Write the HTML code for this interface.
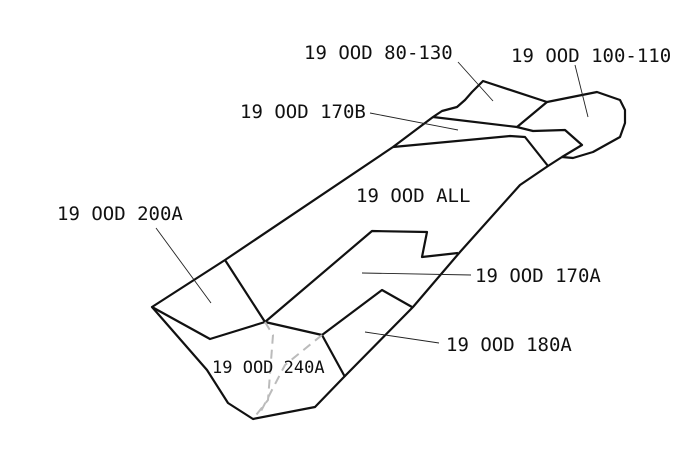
<!DOCTYPE html>
<html><head><meta charset="utf-8"><style>
html,body{margin:0;padding:0;background:#fff;}
svg{display:block;}
text{font-family:"DejaVu Sans Mono","Liberation Mono",monospace;font-size:19px;fill:#111;}
.b{fill:none;stroke:#111;stroke-width:2.2;stroke-linejoin:round;}
.l{stroke:#222;stroke-width:0.9;}
.d{fill:none;stroke:#bbb;stroke-width:2;stroke-dasharray:9 6;}
</style></head><body>
<svg width="697" height="451" viewBox="0 0 697 451">
<g>
<path class="b" d="M152,307 L225,260 L393,147 L433,117 L442,111 L457,107 L465,100 L472,92 L483,81 L547,102 L597,92 L620,100 L625,110 L625,123 L620,137 L593,152 L573,158 L562,157 L548,166 L520,185 L460,252 L413,307 L343,378 L315,407 L253,419 L228,403 L207,370 Z"/>
<path class="b" d="M433,117 L517,127 L547,102"/>
<path class="b" d="M517,127 L533,131 L565,130 L582,145 L562,157"/>
<path class="b" d="M393,147 L510,136 L525,137 L548,166"/>
<path class="b" d="M265,322 L372,231 L427,232 L422,257 L458,253"/>
<path class="b" d="M225,260 L265,322 L210,339 L152,307"/>
<path class="b" d="M265,322 L322,335 L345,377"/>
<path class="b" d="M322,335 L382,290 L412,307"/>
<path class="d" d="M265,322 L273,335 L268,400 L253,419"/>
<path class="d" d="M322,335 L285,365 L260,413"/>
</g>
<g>
<line class="l" x1="458" y1="62" x2="493" y2="101"/>
<line class="l" x1="575" y1="65" x2="588" y2="117"/>
<line class="l" x1="370" y1="113" x2="458" y2="130"/>
<line class="l" x1="156" y1="228" x2="211" y2="303"/>
<line class="l" x1="362" y1="273" x2="471" y2="275"/>
<line class="l" x1="365" y1="332" x2="439" y2="343"/>
</g>
<g>
<text x="304" y="59">19 OOD 80-130</text>
<text x="511" y="62">19 OOD 100-110</text>
<text x="240" y="118">19 OOD 170B</text>
<text x="356" y="202">19 OOD ALL</text>
<text x="57" y="220">19 OOD 200A</text>
<text x="475" y="282">19 OOD 170A</text>
<text x="446" y="351">19 OOD 180A</text>
<text x="212" y="373" style="font-size:17px">19 OOD 240A</text>
</g>
</svg>
</body></html>
